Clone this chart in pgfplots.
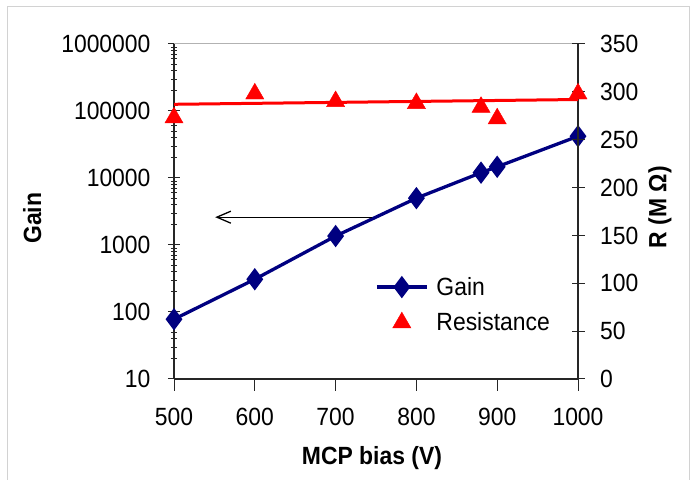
\documentclass[border=0pt]{standalone}
\usepackage{fontspec}
\setmainfont[FakeStretch=0.92]{Liberation Sans}
\usepackage{pgfplots}
\pgfplotsset{compat=1.18}
\usetikzlibrary{arrows.meta}
\definecolor{navy}{RGB}{0,0,128}
\definecolor{rred}{RGB}{255,0,0}
\pgfplotsset{
  lineleg/.style={legend image code/.code={\draw[mark repeat=2,mark phase=2,##1] plot coordinates {(0bp,0bp) (25bp,0bp) (50bp,0bp)};}},
  markleg/.style={legend image code/.code={\draw[##1] plot coordinates {(25bp,0bp)};}},
}
\begin{document}
\begin{tikzpicture}
\useasboundingbox (0bp,0bp) rectangle (693bp,480bp);
\draw[gray!35, line width=1bp] (7bp,0bp) -- (7bp,473bp) -- (689bp,473bp) -- (689bp,0bp);
\pgfplotsset{
  every axis/.append style={
    at={(174bp,101bp)}, anchor=south west, scale only axis,
    width=404bp, height=335bp, xmin=500, xmax=1000,
    /pgf/number format/assume math mode=true,
    /pgf/number format/1000 sep={},
    tick label style={font=\fontsize{25}{25}\selectfont},
    axis line style={line width=1.1bp, black!85},
    tick style={line width=1bp, black!85},
  }
}
\begin{axis}[
  ymode=log, ymin=10, ymax=1000000,
  axis y line*=left, axis x line*=bottom,
  xtick={500,600,700,800,900,1000},
  ytick={10,100,1000,10000,100000,1000000},
  yticklabels={10,100,1000,10000,100000,1000000},
  tick align=center, major tick length=12bp, minor tick length=6bp,
  x tick style={/pgfplots/tick align=outside},
  xticklabel style={yshift=-20bp},
  yticklabel style={xshift=-14bp},
  xlabel={\bfseries MCP bias (V)},
  ylabel={\bfseries Gain},
  label style={font=\fontsize{25}{25}\selectfont},
  xlabel style={at={(axis description cs:0.49,-0.236)}, anchor=center},
  ylabel style={at={(axis description cs:-0.351,0.48)}, anchor=center},
]
\draw[gray!60, line width=1bp] (rel axis cs:0,1) -- (rel axis cs:1,1);
\addplot[navy, line width=3.3bp, mark=diamond*, mark size=8.5bp] coordinates {
  (500,78) (600,308) (700,1360) (800,5000) (880,12000) (900,14700) (1000,42000)
};
\draw[-{Straight Barb[length=14bp,width=12bp]}, line width=1.3bp, black] (axis cs:745,2600) -- (axis cs:551,2600);
\end{axis}
\begin{axis}[
  ymin=0, ymax=350,
  axis y line*=right, axis x line=none,
  ytick={0,50,100,150,200,250,300,350},
  tick align=center, major tick length=13bp,
  yticklabel style={xshift=12bp},
  ylabel={\bfseries R (M Ω)},
  label style={font=\fontsize{25}{25}\selectfont},
  ylabel style={at={(axis description cs:1.203,0.513)}, anchor=center},
  legend style={at={(axis description cs:0.4975,0.31)}, anchor=north west,
    draw=none, fill=none, font=\fontsize{25}{25}\selectfont, row sep=12bp,
    column sep=6bp, inner sep=0bp},
  legend cell align=left,
]
\addlegendimage{navy, line width=3.3bp, mark=diamond*, mark size=8.5bp, lineleg}
\addlegendentry{Gain}
\addplot[rred, only marks, mark=triangle*, mark size=10.5bp, markleg] coordinates {
  (500,273) (600,298) (700,290) (800,288) (880,284) (900,272) (1000,298)
};
\addlegendentry{Resistance}
\addplot[rred, line width=3bp, forget plot] coordinates {(500,287) (1000,292)};
\end{axis}
\end{tikzpicture}
\end{document}
